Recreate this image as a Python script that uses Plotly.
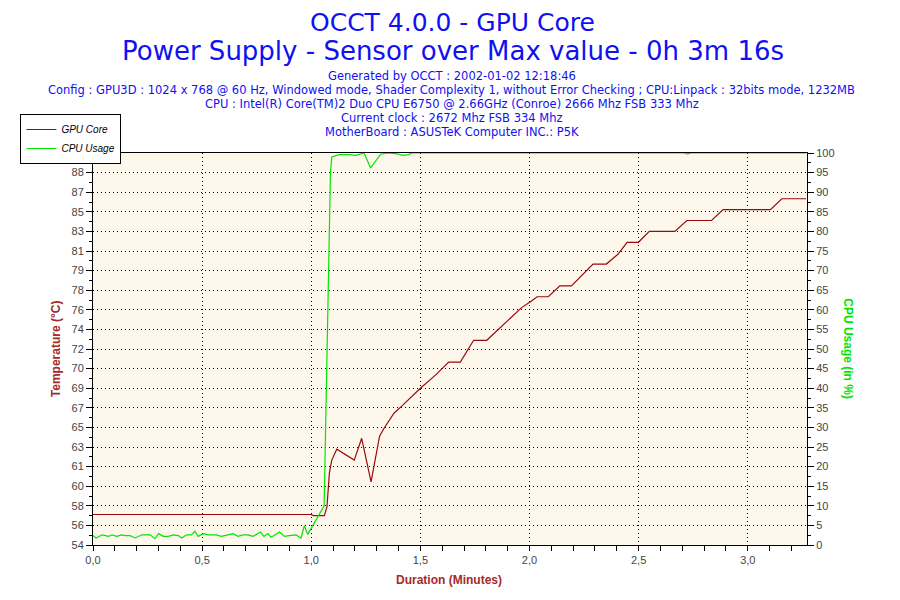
import plotly.graph_objects as go

# GPU core temperature (minutes, deg C)
gpu_time = [0.0, 0.999, 1.01, 1.06, 1.072, 1.083, 1.094, 1.117, 1.197, 1.231, 1.274,
            1.313, 1.333, 1.379, 1.417, 1.5, 1.569, 1.63, 1.683, 1.744, 1.804, 1.888,
            1.964, 2.009, 2.035, 2.086, 2.139, 2.192, 2.291, 2.321, 2.352, 2.405, 2.447,
            2.499, 2.549, 2.666, 2.721, 2.834, 2.887, 3.104, 3.156, 3.267]
gpu_temp = [57, 57, 56.9, 56.9, 57.7, 60.8, 62.0, 63.0, 62.0, 64.0, 60.0,
            64.2, 64.9, 66.3, 67.0, 68.6, 69.8, 71.0, 71.0, 73.0, 73.0, 74.6,
            76.0, 76.6, 77.0, 77.0, 78.0, 78.0, 80.0, 80.0, 80.0, 80.9, 82.0,
            82.0, 83.0, 83.0, 84.0, 84.0, 85.0, 85.0, 86.0, 86.0]

# CPU usage (minutes, %)
cpu_time = [0.0, 0.014, 0.041, 0.072, 0.087, 0.109, 0.132, 0.148, 0.17, 0.193, 0.224,
            0.262, 0.284, 0.3, 0.322, 0.345, 0.368, 0.391, 0.406, 0.429, 0.451, 0.467,
            0.482, 0.505, 0.528, 0.565, 0.588, 0.619, 0.642, 0.664, 0.687, 0.71, 0.733,
            0.768, 0.783, 0.801, 0.816, 0.855, 0.877, 0.9, 0.93, 0.953, 0.968, 0.984,
            1.059, 1.088, 1.094, 1.128, 1.174, 1.204, 1.242, 1.272, 1.318, 1.35, 1.394,
            1.417, 1.447, 1.459, 2.709, 2.724, 2.739, 3.267]
cpu_usage = [2.4, 1.8, 2.6, 2.2, 2.6, 2.2, 2.6, 2.4, 2.4, 1.8, 2.6,
             2.6, 1.6, 2.9, 2.2, 2.2, 2.6, 2.4, 1.8, 2.6, 2.6, 3.5,
             2.2, 2.9, 2.6, 2.6, 2.2, 2.6, 2.9, 2.2, 2.6, 2.6, 2.2,
             3.3, 2.2, 2.9, 2.0, 3.3, 2.2, 2.4, 2.6, 1.8, 4.9, 2.7,
             10.0, 95.0, 99.0, 99.6, 99.6, 99.4, 100, 96.2, 99.7, 100, 99.8,
             99.4, 99.6, 100, 100, 99.7, 100, 100]

temp_tick_labels = ["54", "56", "58", "60", "61", "63", "65", "67", "69", "70", "72",
                    "74", "76", "78", "79", "81", "83", "85", "87", "88", "90"]

title_lines = ["OCCT 4.0.0 - GPU Core",
               "Power Supply - Sensor over Max value - 0h 3m 16s"]
info_lines = ["Generated by OCCT : 2002-01-02 12:18:46",
              "Config : GPU3D : 1024 x 768 @ 60 Hz, Windowed mode, Shader Complexity 1, without Error Checking ; CPU:Linpack : 32bits mode, 1232MB",
              "CPU : Intel(R) Core(TM)2 Duo CPU E6750 @ 2.66GHz (Conroe) 2666 Mhz FSB 333 Mhz",
              "Current clock : 2672 Mhz FSB 334 Mhz",
              "MotherBoard : ASUSTeK Computer INC.: P5K"]

# page body has an 8px margin, so the figure is shrunk and shifted by that much
OFF = 8
W, H = 900 - OFF, 600 - 2 * OFF
# plot area in page pixels
PL, PR, PT, PB = 89, 807, 153, 545


def px(p):
    return (p - PL) / (PR - PL)


def py(p):
    return (PB - p) / (PB - PT)


t_min, t_max = 54.2, 90.2
t_step = (t_max - t_min) / 20
temp_tickvals = [t_min + i * t_step for i in range(len(temp_tick_labels))]

RED = "#990A0A"
GREEN = "#00E600"
TITLE_RED = "#A52A2A"
BLUE = "#1010F0"
FONT = "Liberation Sans"
TFONT = "DejaVu Sans"

fig = go.Figure()
fig.add_trace(go.Scatter(x=gpu_time, y=gpu_temp, mode="lines", name="GPU Core",
                         line=dict(color=RED, width=1.2)))
fig.add_trace(go.Scatter(x=cpu_time, y=cpu_usage, mode="lines", name="CPU Usage",
                         line=dict(color=GREEN, width=1.2), yaxis="y2"))

ann = []
ann.append(dict(text=title_lines[0], x=px(451), y=py(23), font=dict(family=TFONT, size=25, color=BLUE)))
ann.append(dict(text=title_lines[1], x=px(451), y=py(51), font=dict(family=TFONT, size=26, color=BLUE)))
for i, s in enumerate(info_lines):
    ann.append(dict(text=s, x=px(450), y=py(76 + 14 * i), font=dict(family=TFONT, size=11.5, color=BLUE)))
ann.append(dict(text="<b>Temperature (°C)</b>", x=px(52), y=py(349), textangle=-90,
                font=dict(family=FONT, size=12, color=TITLE_RED)))
ann.append(dict(text="<b>CPU Usage (in %)</b>", x=px(848), y=py(349), textangle=90,
                font=dict(family=FONT, size=12, color=GREEN)))
ann.append(dict(text="<b>Duration (Minutes)</b>", x=px(447), y=py(580),
                font=dict(family=FONT, size=12, color=TITLE_RED)))
for a in ann:
    a.update(xref="paper", yref="paper", xanchor="center", yanchor="middle", showarrow=False)

tickfont = dict(family=FONT, size=11, color="#444444")
dots = "1px,3px"

fig.update_layout(
    width=W, height=H,
    margin=dict(l=PL - OFF, r=W - (PR - OFF), t=PT - OFF, b=H - (PB - OFF), pad=0),
    paper_bgcolor="white", plot_bgcolor="#FDF8EB",
    separators=",.",
    font=dict(family=FONT),
    annotations=ann,
    showlegend=True,
    legend=dict(x=px(16), y=py(114), xanchor="left", yanchor="top",
                bgcolor="white", bordercolor="black", borderwidth=1,
                font=dict(family=FONT, size=10, color="black", style="italic"),
                tracegroupgap=0, itemwidth=30),
    xaxis=dict(range=[0, 3.2714], tick0=0, dtick=0.5, tickformat=".1f",
               showline=True, linecolor="black", linewidth=1, mirror=True,
               ticks="outside", ticklen=5, tickcolor="black", tickfont=tickfont,
               showgrid=True, gridcolor="black", griddash=dots, gridwidth=1,
               zeroline=False,
               minor=dict(dtick=0.1, tick0=0, ticks="outside", ticklen=5,
                          tickcolor="black", showgrid=False)),
    yaxis=dict(range=[t_min, t_max], tickmode="array", tickvals=temp_tickvals,
               ticktext=temp_tick_labels,
               showline=True, linecolor="black", linewidth=1,
               ticks="outside", ticklen=6, tickcolor="black", tickfont=tickfont,
               showgrid=True, gridcolor="black", griddash=dots, gridwidth=1,
               zeroline=False,
               minor=dict(tick0=t_min + t_step / 2, dtick=t_step, ticks="outside",
                          ticklen=3, tickcolor="black", showgrid=False)),
    yaxis2=dict(range=[0, 100], overlaying="y", side="right", tick0=0, dtick=5,
                showline=True, linecolor="black", linewidth=1,
                ticks="outside", ticklen=6, tickcolor="black", tickfont=tickfont,
                showgrid=False, zeroline=False,
                minor=dict(tick0=2.5, dtick=5, ticks="outside", ticklen=3,
                           tickcolor="black", showgrid=False)),
)

fig.write_html("out.html")
